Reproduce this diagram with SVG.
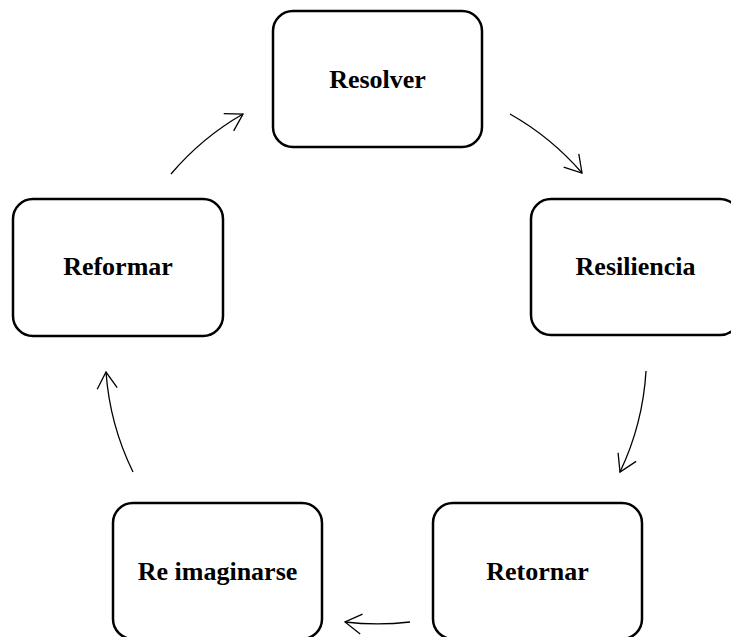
<svg xmlns="http://www.w3.org/2000/svg" width="731" height="637" viewBox="0 0 731 637">
<style>
.box{fill:#fff;stroke:#000;stroke-width:2.5}
.lbl{font-family:"Liberation Serif","Times New Roman",serif;font-weight:bold;font-size:26px;fill:#000;text-anchor:middle}
.arc{fill:none;stroke:#000;stroke-width:1.3;marker-end:url(#ah)}
</style>
<defs>
<marker id="ah" markerUnits="userSpaceOnUse" viewBox="-20 -12 22 24" markerWidth="22" markerHeight="24" refX="0" refY="0" orient="auto">
<path d="M-16.5,-10 L0,0 L-16.5,10" fill="none" stroke="#000" stroke-width="1.3"/>
</marker>
</defs>
<rect width="731" height="637" fill="#fff"/>
<g id="connectors">
<path class="arc" d="M171,174 A271.5,271.5 0 0 1 243,114"/>
<path class="arc" d="M510,114 A271.5,271.5 0 0 1 582,173"/>
<path class="arc" d="M646,371 A271.5,271.5 0 0 1 620,472"/>
<path class="arc" d="M410,622 A271.5,271.5 0 0 1 345,622"/>
<path class="arc" d="M133,472 A271.5,271.5 0 0 1 106,372"/>
</g>
<g id="resolver">
<rect class="box" x="273" y="11" width="209" height="136" rx="20"/>
<text class="lbl" x="377.5" y="88">Resolver</text>
</g>
<g id="resiliencia">
<rect class="box" x="531" y="199" width="209" height="136" rx="20"/>
<text class="lbl" x="635.5" y="275">Resiliencia</text>
</g>
<g id="retornar">
<rect class="box" x="433" y="503" width="209" height="136" rx="20"/>
<text class="lbl" x="537.5" y="580">Retornar</text>
</g>
<g id="reimaginarse">
<rect class="box" x="113" y="503" width="209" height="136" rx="20"/>
<text class="lbl" x="217.5" y="580">Re imaginarse</text>
</g>
<g id="reformar">
<rect class="box" x="13" y="199" width="210" height="137" rx="20"/>
<text class="lbl" x="118" y="275">Reformar</text>
</g>
</svg>
